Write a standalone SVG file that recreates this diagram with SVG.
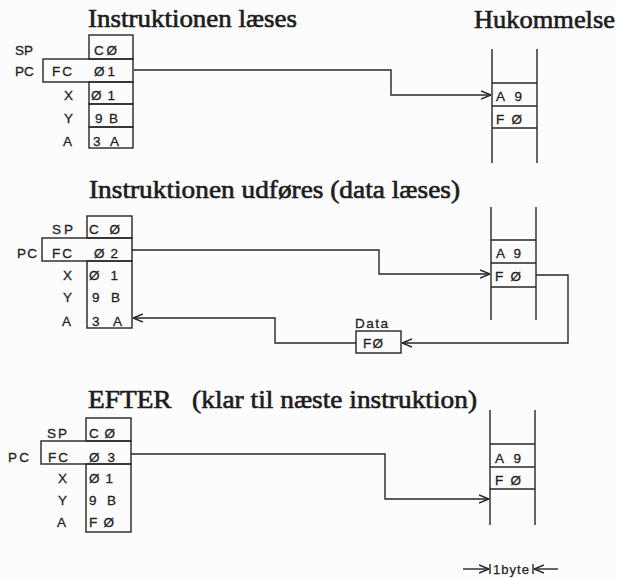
<svg xmlns="http://www.w3.org/2000/svg" width="617" height="578" viewBox="0 0 617 578">
<style>
.bg{fill:#fdfcfd}
.ln{fill:none;stroke:#262626;stroke-width:1.4}
.bx{fill:none;stroke:#262626;stroke-width:1.4}
.t{font-family:"Liberation Serif","Times New Roman",serif;font-size:26px;fill:#1c1c1c;stroke:#1c1c1c;stroke-width:0.65;white-space:pre}
.s{font-family:"Liberation Sans",Arial,sans-serif;font-size:13.5px;fill:#222;stroke:#222;stroke-width:0.3}
.m{font-family:"Liberation Sans",Arial,sans-serif;font-size:13.5px;fill:#222;stroke:#222;stroke-width:0.3}
.sm{font-family:"Liberation Sans",Arial,sans-serif;font-size:13px;fill:#222;stroke:#222;stroke-width:0.25}
</style>
<defs>
<marker id="ah" viewBox="0 0 10 10" refX="10" refY="5" markerWidth="10" markerHeight="10" markerUnits="userSpaceOnUse" orient="auto">
<path d="M0,1 L10,5 L0,9" fill="none" stroke="#262626" stroke-width="1.5"/>
</marker>
</defs>
<rect class="bg" x="0" y="0" width="617" height="578"/>

<!-- Titles -->
<text class="t" x="88" y="27" textLength="209" lengthAdjust="spacingAndGlyphs">Instruktionen læses</text>
<text class="t" x="474" y="28" textLength="141" lengthAdjust="spacingAndGlyphs">Hukommelse</text>
<text class="t" x="89" y="198" textLength="371" lengthAdjust="spacingAndGlyphs">Instruktionen udføres (data læses)</text>
<text class="t" x="88" y="408" textLength="389" lengthAdjust="spacingAndGlyphs" xml:space="preserve">EFTER   (klar til næste instruktion)</text>

<!-- Registers, step 1 -->
<g id="registers1">
<rect class="bx" x="89" y="35" width="44" height="24"/>
<rect class="bx" x="43" y="59" width="90" height="23"/>
<rect class="bx" x="89" y="82" width="44" height="22"/>
<rect class="bx" x="89" y="104" width="44" height="23"/>
<rect class="bx" x="89" y="127" width="44" height="21"/>
<text class="s" x="15" y="55">SP</text>
<text class="s" x="15" y="76">PC</text>
<text class="s" x="64" y="100">X</text>
<text class="s" x="64" y="123">Y</text>
<text class="s" x="63" y="146">A</text>
<text class="s" x="94" y="55" textLength="23">CØ</text>
<text class="s" x="52" y="76" textLength="20">FC</text>
<text class="s" x="94" y="76" textLength="21">Ø1</text>
<text class="s" x="91" y="100" textLength="24">Ø1</text>
<text class="s" x="95" y="123" textLength="23">9B</text>
<text class="s" x="93" y="146" textLength="26">3A</text>
</g>

<!-- Memory, step 1 -->
<g id="memory1">
<line class="ln" x1="492" y1="49" x2="492" y2="163"/>
<line class="ln" x1="537" y1="49" x2="537" y2="163"/>
<line class="ln" x1="492" y1="83" x2="537" y2="83"/>
<line class="ln" x1="492" y1="106" x2="537" y2="106"/>
<line class="ln" x1="492" y1="128" x2="537" y2="128"/>
<text class="m" x="496" y="101" textLength="26">A 9</text>
<text class="m" x="496" y="124" textLength="26">F Ø</text>
</g>

<!-- Registers, step 2 -->
<g id="registers2">
<rect class="bx" x="87" y="216" width="45" height="22"/>
<rect class="bx" x="42" y="238" width="90" height="23"/>
<rect class="bx" x="87" y="261" width="45" height="67"/>
<text class="s" x="52" y="234" textLength="21">SP</text>
<text class="s" x="17" y="258" textLength="20">PC</text>
<text class="s" x="63" y="280">X</text>
<text class="s" x="63" y="302">Y</text>
<text class="s" x="62" y="326">A</text>
<text class="s" x="89" y="234" textLength="31">C Ø</text>
<text class="s" x="52" y="258" textLength="20">FC</text>
<text class="s" x="94" y="258" textLength="24">Ø 2</text>
<text class="s" x="89" y="280" textLength="29">Ø 1</text>
<text class="s" x="92" y="302" textLength="28">9 B</text>
<text class="s" x="92" y="326" textLength="30">3 A</text>
</g>

<!-- Memory, step 2 -->
<g id="memory2">
<line class="ln" x1="491" y1="207" x2="491" y2="320"/>
<line class="ln" x1="536" y1="207" x2="536" y2="320"/>
<line class="ln" x1="491" y1="240" x2="536" y2="240"/>
<line class="ln" x1="491" y1="263" x2="536" y2="263"/>
<line class="ln" x1="491" y1="287" x2="536" y2="287"/>
<text class="m" x="496" y="258" textLength="25">A 9</text>
<text class="m" x="495" y="281" textLength="26">F Ø</text>
</g>

<!-- Data buffer -->
<g id="data">
<rect class="bx" x="356" y="331" width="45" height="22"/>
<text class="m" x="355" y="328" textLength="33">Data</text>
<text class="m" x="363" y="348" textLength="20">FØ</text>
</g>

<!-- Registers, step 3 -->
<g id="registers3">
<rect class="bx" x="86" y="418" width="45" height="23"/>
<rect class="bx" x="41" y="441" width="90" height="23"/>
<rect class="bx" x="86" y="464" width="45" height="68"/>
<text class="s" x="47" y="438" textLength="20">SP</text>
<text class="s" x="8" y="462" textLength="21">PC</text>
<text class="s" x="58" y="483">X</text>
<text class="s" x="58" y="505">Y</text>
<text class="s" x="57" y="527">A</text>
<text class="s" x="89" y="438" textLength="26">C Ø</text>
<text class="s" x="48" y="462" textLength="20">FC</text>
<text class="s" x="89" y="462" textLength="26">Ø 3</text>
<text class="s" x="89" y="483" textLength="24">Ø 1</text>
<text class="s" x="89" y="505" textLength="27">9 B</text>
<text class="s" x="89" y="527" textLength="25">F Ø</text>
</g>

<!-- Memory, step 3 -->
<g id="memory3">
<line class="ln" x1="490" y1="410" x2="490" y2="525"/>
<line class="ln" x1="535" y1="410" x2="535" y2="525"/>
<line class="ln" x1="490" y1="444" x2="535" y2="444"/>
<line class="ln" x1="490" y1="467" x2="535" y2="467"/>
<line class="ln" x1="490" y1="489" x2="535" y2="489"/>
<text class="m" x="495" y="463" textLength="26">A 9</text>
<text class="m" x="495" y="485" textLength="26">F Ø</text>
</g>

<!-- Byte width annotation -->
<g id="bytewidth">
<line class="ln" x1="490" y1="564" x2="490" y2="574"/>
<line class="ln" x1="533" y1="564" x2="533" y2="574"/>
<text class="sm" x="493" y="574" textLength="36">1byte</text>
</g>

<!-- Connectors -->
<g id="connectors">
<path class="ln" d="M134,70 H391 V95 H491" marker-end="url(#ah)"/>
<path class="ln" d="M132,250 H379 V274 H490" marker-end="url(#ah)"/>
<path class="ln" d="M536,275 H568 V343 H402" marker-end="url(#ah)"/>
<path class="ln" d="M356,343 H275 V318 H133" marker-end="url(#ah)"/>
<path class="ln" d="M131,454 H385 V499 H489" marker-end="url(#ah)"/>
<path class="ln" d="M463,569 H489" marker-end="url(#ah)"/>
<path class="ln" d="M558,569 H534" marker-end="url(#ah)"/>
</g>
</svg>
